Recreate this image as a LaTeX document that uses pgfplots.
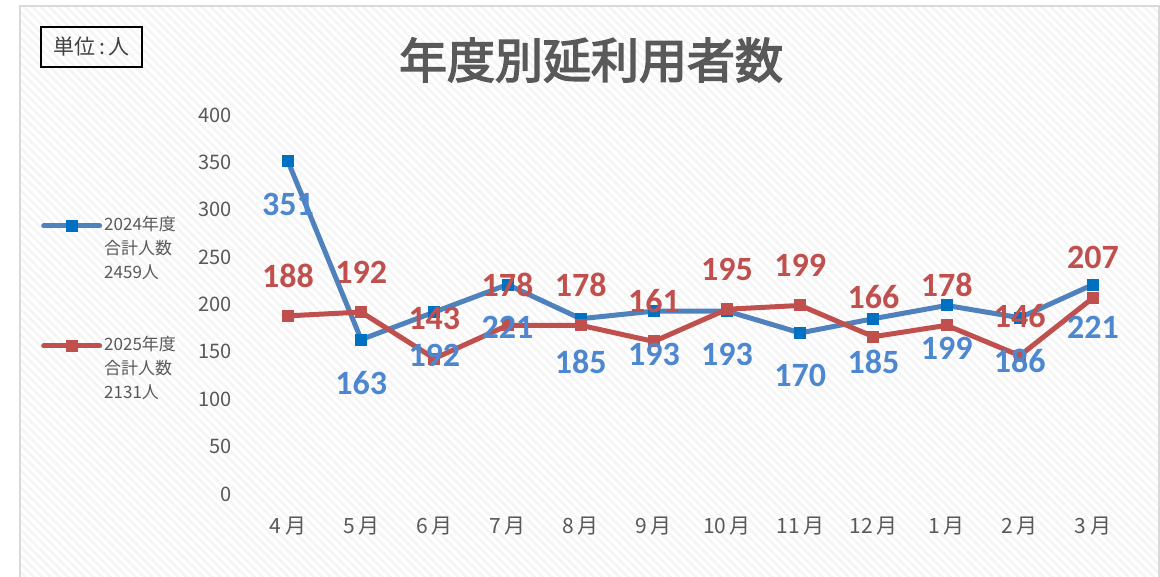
\documentclass[border=0pt]{standalone}
\usepackage{fontspec}
\setmainfont{Noto Sans CJK JP}
\newfontfamily\lblfont{Carlito}
\newfontfamily\titlefont{Noto Sans CJK JP}[FakeBold=3]
\usepackage{pgfplots}
\pgfplotsset{compat=1.18}
\usetikzlibrary{patterns.meta}
\definecolor{txtgray}{HTML}{595959}
\definecolor{blueline}{HTML}{4F81BD}
\definecolor{bluemark}{HTML}{0070C0}
\definecolor{bluelbl}{HTML}{4D87D0}
\definecolor{redline}{HTML}{C0504D}
\begin{document}
\begin{tikzpicture}
\useasboundingbox (0,0) rectangle (1160pt,577pt);
\fill[white] (20pt,-5pt) rectangle (1159pt,571pt);
\fill[pattern={Lines[angle=-45,distance=6pt,line width=2.5pt]},pattern color=black!4] (20pt,-5pt) rectangle (1159pt,571pt);
\draw[black!15,line width=2pt] (20pt,-5pt) rectangle (1159pt,571pt);
\node[draw=black,line width=1.5pt,minimum width=101pt,minimum height=40pt,inner sep=0pt,text=black!75,font=\fontsize{21}{24}\selectfont] at (91.5pt,530pt) {単位\,:\,人};
\node[text=txtgray,font=\fontsize{48}{52}\selectfont\titlefont] at (591pt,517pt) {年度別延利用者数};
\begin{axis}[
  at={(251.4pt,83pt)}, anchor=south west,
  scale only axis, width=878.2pt, height=379pt,
  xmin=-0.5, xmax=11.5, ymin=0, ymax=400,
  clip=false,
  axis line style={draw=none},
  major tick style={draw=none},
  xtick=data,
  xticklabels={4\,月,5\,月,6\,月,7\,月,8\,月,9\,月,10\,月,11\,月,12\,月,1\,月,2\,月,3\,月},
  ytick={0,50,...,400},
  /pgf/number format/assume math mode=true,
  xticklabel style={font=\fontsize{21}{22}\selectfont, text=txtgray, yshift=-19pt},
  yticklabel style={font=\fontsize{20}{22}\selectfont, text=txtgray, xshift=-16pt},
  legend style={at={(-0.243,0.7446)}, anchor=north west, draw=none, fill=none,
    font=\fontsize{17}{24}\selectfont, text=txtgray,
    nodes={inner ysep=0pt, text height=17pt, text depth=7pt},
    /tikz/every odd column/.style={column sep=0pt}},
  legend cell align=left,
  legend image code/.code={\draw[#1,mark repeat=2,mark phase=2,line cap=round] plot coordinates {(0pt,0pt) (28pt,0pt) (56pt,0pt)};},
]
\addplot[blueline, line width=5pt, line join=round, mark=square*, mark size=5.5pt, mark options={fill=bluemark, draw=bluemark, line width=0pt}]
 coordinates {(0,351)(1,163)(2,192)(3,221)(4,185)(5,193)(6,193)(7,170)(8,185)(9,199)(10,186)(11,221)};
\addlegendentry{2024年度}
\addlegendimage{empty legend}\addlegendentry{合計人数}
\addlegendimage{empty legend}\addlegendentry{2459人}
\addlegendimage{empty legend}\addlegendentry{\mbox{}}
\addlegendimage{empty legend}\addlegendentry{\mbox{}}
\addlegendimage{redline, line width=5pt, mark=square*, mark size=5.5pt, mark options={fill=redline, draw=redline, line width=0pt}}
\addlegendentry{2025年度}
\addlegendimage{empty legend}\addlegendentry{合計人数}
\addlegendimage{empty legend}\addlegendentry{2131人}
\addplot[redline, line width=5pt, line join=round, mark=square*, mark size=5.5pt, mark options={fill=redline, draw=redline, line width=0pt}, forget plot]
 coordinates {(0,188)(1,192)(2,143)(3,178)(4,178)(5,161)(6,195)(7,199)(8,166)(9,178)(10,146)(11,207)};
\addplot[draw=none, forget plot, point meta=y, nodes near coords,
  every node near coord/.append style={anchor=center, yshift=-43pt, text=bluelbl, font=\fontsize{34}{36}\selectfont\lblfont\bfseries}]
 coordinates {(0,351)(1,163)(2,192)(3,221)(4,185)(5,193)(6,193)(7,170)(8,185)(9,199)(10,186)(11,221)};
\addplot[draw=none, forget plot, point meta=y, nodes near coords,
  every node near coord/.append style={anchor=center, yshift=40pt, text=redline, font=\fontsize{34}{36}\selectfont\lblfont\bfseries}]
 coordinates {(0,188)(1,192)(2,143)(3,178)(4,178)(5,161)(6,195)(7,199)(8,166)(9,178)(10,146)(11,207)};
\end{axis}
\end{tikzpicture}
\end{document}
